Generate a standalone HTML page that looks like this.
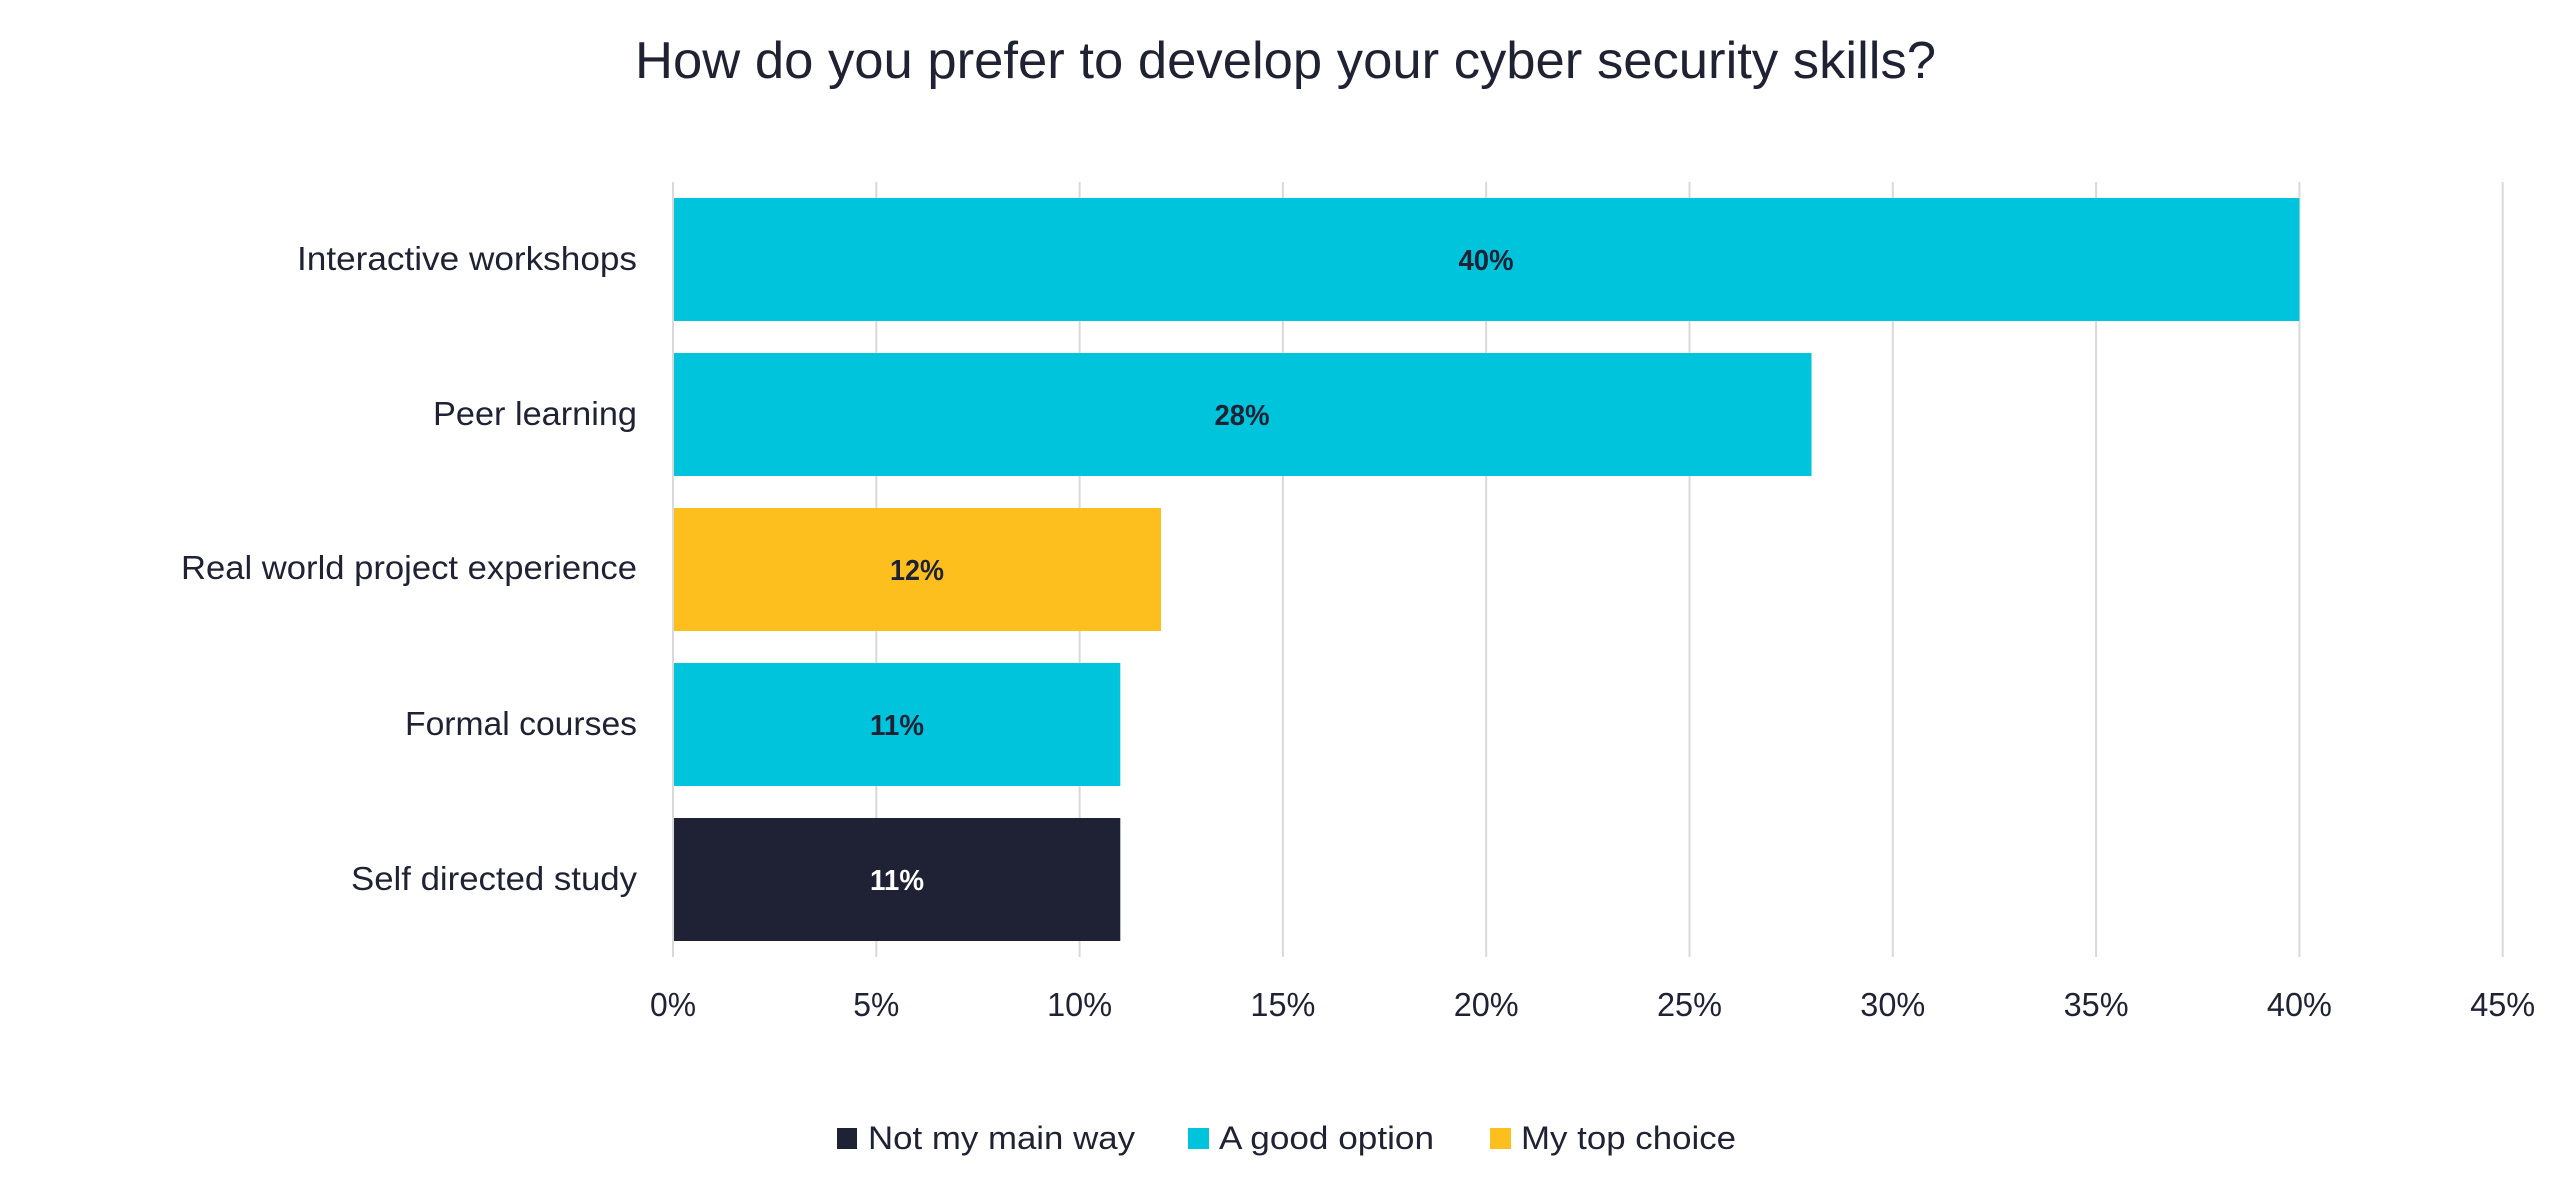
<!DOCTYPE html>
<html>
<head>
<meta charset="utf-8">
<style>
  html, body { margin: 0; padding: 0; background: #ffffff; }
  svg { display: block; }
  text { font-family: "Liberation Sans", Arial, sans-serif; }
</style>
</head>
<body>
<svg width="2560" height="1190" viewBox="0 0 2560 1190" xmlns="http://www.w3.org/2000/svg">
  <rect x="0" y="0" width="2560" height="1190" fill="#ffffff"/>

  <!-- Title -->
  <text x="635" y="78" font-size="52" fill="#1f2233" textLength="1301" lengthAdjust="spacingAndGlyphs">How do you prefer to develop your cyber security skills?</text>

  <!-- Gridlines -->
  <g stroke="#d9d9d9" stroke-width="2">
    <line x1="673" y1="182" x2="673" y2="957"/>
    <line x1="876.3" y1="182" x2="876.3" y2="957"/>
    <line x1="1079.6" y1="182" x2="1079.6" y2="957"/>
    <line x1="1282.9" y1="182" x2="1282.9" y2="957"/>
    <line x1="1486.2" y1="182" x2="1486.2" y2="957"/>
    <line x1="1689.5" y1="182" x2="1689.5" y2="957"/>
    <line x1="1892.8" y1="182" x2="1892.8" y2="957"/>
    <line x1="2096.1" y1="182" x2="2096.1" y2="957"/>
    <line x1="2299.4" y1="182" x2="2299.4" y2="957"/>
    <line x1="2502.7" y1="182" x2="2502.7" y2="957"/>
  </g>

  <!-- Bars -->
  <rect x="674" y="198" width="1625.4" height="123" fill="#00c3dc"/>
  <rect x="674" y="353" width="1137.5" height="123" fill="#00c3dc"/>
  <rect x="674" y="508" width="487" height="123" fill="#fdbf1d"/>
  <rect x="674" y="663" width="446.3" height="123" fill="#00c3dc"/>
  <rect x="674" y="818" width="446.3" height="123" fill="#1f2235"/>

  <!-- Data labels -->
  <g font-size="29" font-weight="bold" text-anchor="middle">
    <text x="1486" y="270" fill="#1f2235" textLength="55" lengthAdjust="spacingAndGlyphs">40%</text>
    <text x="1242" y="425" fill="#1f2235" textLength="55" lengthAdjust="spacingAndGlyphs">28%</text>
    <text x="917" y="580" fill="#1f2235" textLength="54" lengthAdjust="spacingAndGlyphs">12%</text>
    <text x="897" y="735" fill="#1f2235" textLength="54" lengthAdjust="spacingAndGlyphs">11%</text>
    <text x="897" y="890" fill="#ffffff" textLength="54" lengthAdjust="spacingAndGlyphs">11%</text>
  </g>

  <!-- Category labels -->
  <g font-size="33" fill="#1f2233" text-anchor="end">
    <text x="637" y="270" textLength="340" lengthAdjust="spacingAndGlyphs">Interactive workshops</text>
    <text x="637" y="425" textLength="204" lengthAdjust="spacingAndGlyphs">Peer learning</text>
    <text x="637" y="579" textLength="456" lengthAdjust="spacingAndGlyphs">Real world project experience</text>
    <text x="637" y="735" textLength="232" lengthAdjust="spacingAndGlyphs">Formal courses</text>
    <text x="637" y="890" textLength="286" lengthAdjust="spacingAndGlyphs">Self directed study</text>
  </g>

  <!-- Tick labels -->
  <g font-size="33" fill="#1f2233" text-anchor="middle">
    <text x="673" y="1016" textLength="46" lengthAdjust="spacingAndGlyphs">0%</text>
    <text x="876.3" y="1016" textLength="46" lengthAdjust="spacingAndGlyphs">5%</text>
    <text x="1079.6" y="1016" textLength="65" lengthAdjust="spacingAndGlyphs">10%</text>
    <text x="1282.9" y="1016" textLength="65" lengthAdjust="spacingAndGlyphs">15%</text>
    <text x="1486.2" y="1016" textLength="65" lengthAdjust="spacingAndGlyphs">20%</text>
    <text x="1689.5" y="1016" textLength="65" lengthAdjust="spacingAndGlyphs">25%</text>
    <text x="1892.8" y="1016" textLength="65" lengthAdjust="spacingAndGlyphs">30%</text>
    <text x="2096.1" y="1016" textLength="65" lengthAdjust="spacingAndGlyphs">35%</text>
    <text x="2299.4" y="1016" textLength="65" lengthAdjust="spacingAndGlyphs">40%</text>
    <text x="2502.7" y="1016" textLength="65" lengthAdjust="spacingAndGlyphs">45%</text>
  </g>

  <!-- Legend -->
  <rect x="837" y="1128" width="20" height="21" fill="#1f2235"/>
  <text x="868" y="1149" font-size="32" fill="#1f2233" textLength="267" lengthAdjust="spacingAndGlyphs">Not my main way</text>
  <rect x="1188" y="1128" width="21" height="21" fill="#00c3dc"/>
  <text x="1219" y="1149" font-size="32" fill="#1f2233" textLength="215" lengthAdjust="spacingAndGlyphs">A good option</text>
  <rect x="1490" y="1128" width="21" height="21" fill="#fdbf1d"/>
  <text x="1521" y="1149" font-size="32" fill="#1f2233" textLength="215" lengthAdjust="spacingAndGlyphs">My top choice</text>
</svg>
</body>
</html>
